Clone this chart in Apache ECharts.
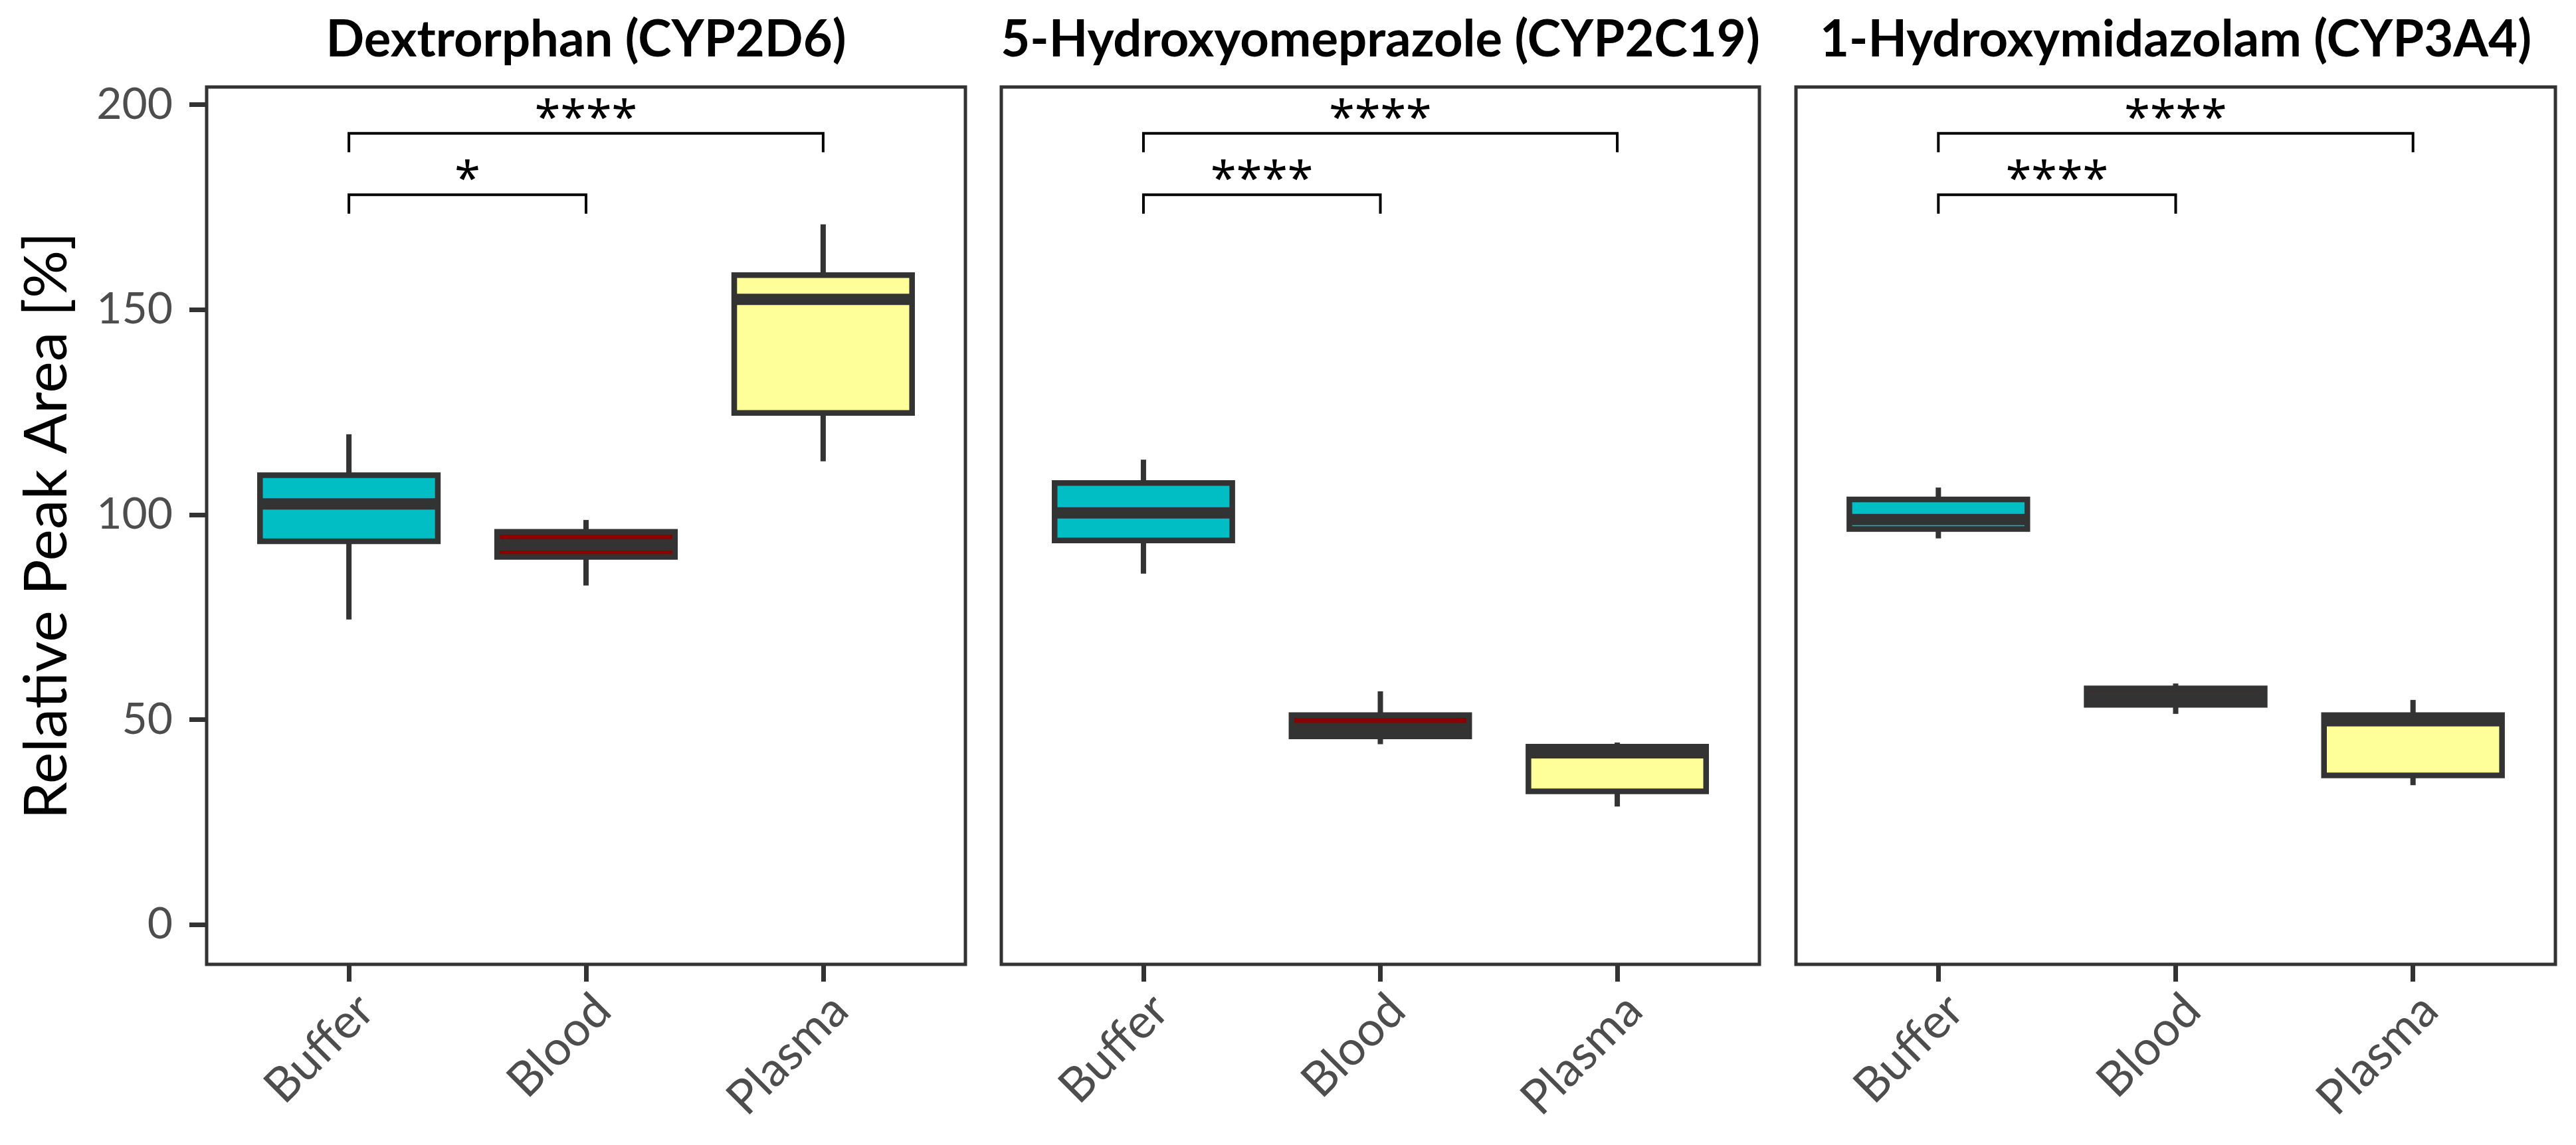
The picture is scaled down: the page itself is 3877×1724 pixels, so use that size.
<!DOCTYPE html>
<html>
<head>
<meta charset="utf-8">
<script src="https://cdn.jsdelivr.net/npm/echarts@6/dist/echarts.min.js"></script>
<style>
html,body{margin:0;padding:0;background:#fff;}
#chart{width:3877px;height:1724px;}
</style>
</head>
<body>
<div id="chart"></div>
<script>
// ---------- data ----------
const categories = ['Buffer', 'Blood', 'Plasma'];
const panelTitles = ['Dextrorphan (CYP2D6)', '5-Hydroxyomeprazole (CYP2C19)', '1-Hydroxymidazolam (CYP3A4)'];
const yTicks = [0, 50, 100, 150, 200];
const yAxisName = 'Relative Peak Area [%]';
// box statistics per category: [min, Q1, median, Q3, max]
const dextrorphanStats = [[74.4, 93.5, 102.6, 109.6, 119.6], [82.7, 89.7, 92.6, 95.8, 98.7], [113.0, 124.8, 152.5, 158.4, 170.8]];
const hydroxyomeprazoleStats = [[85.6, 93.7, 100.4, 107.7, 113.4], [44.0, 45.9, 47.8, 51.1, 56.9], [28.8, 32.5, 41.9, 43.4, 44.4]];
const hydroxymidazolamStats = [[94.2, 96.5, 98.8, 103.7, 106.6], [51.4, 53.6, 55.6, 57.6, 58.8], [34.0, 36.4, 49.7, 51.1, 54.8]];
// significance brackets: [fromCategoryIndex, toCategoryIndex, y, label]
const dextrorphanSig = [[0, 1, 178, '*'], [0, 2, 193, '****']];
const hydroxyomeprazoleSig = [[0, 1, 178, '****'], [0, 2, 193, '****']];
const hydroxymidazolamSig = [[0, 1, 178, '****'], [0, 2, 193, '****']];

// ---------- styling ----------
const fills = ['#00BEC4', '#8B0000', '#FFFF99'];
const panelStats = [dextrorphanStats, hydroxyomeprazoleStats, hydroxymidazolamStats];
const panelSig = [dextrorphanSig, hydroxyomeprazoleSig, hydroxymidazolamSig];
const FONT = 'Lato';
const grids = [
  {left: 311, top: 131, width: 1142, height: 1321},
  {left: 1507, top: 131, width: 1141, height: 1321},
  {left: 2703, top: 131, width: 1143, height: 1321}
];
const Y_MIN = -9.7, Y_MAX = 204.3, TIP = 4.6, HALF = 0.375;

function renderBox(params, api) {
  const x = api.value(0);
  const lo = api.value(1), q1 = api.value(2), med = api.value(3), q3 = api.value(4), hi = api.value(5);
  const tl = api.coord([x - HALF, q3]);
  const br = api.coord([x + HALF, q1]);
  const pHi = api.coord([x, hi]);
  const pLo = api.coord([x, lo]);
  const mL = api.coord([x - HALF, med]);
  const mR = api.coord([x + HALF, med]);
  const stroke = '#333333';
  return {
    type: 'group',
    children: [
      {type: 'line', shape: {x1: pHi[0], y1: pHi[1], x2: pHi[0], y2: tl[1]}, style: {stroke: stroke, lineWidth: 8}},
      {type: 'line', shape: {x1: pLo[0], y1: br[1], x2: pLo[0], y2: pLo[1]}, style: {stroke: stroke, lineWidth: 8}},
      {type: 'rect', shape: {x: tl[0], y: tl[1], width: br[0] - tl[0], height: br[1] - tl[1]},
        style: {fill: fills[params.dataIndex], stroke: stroke, lineWidth: 8.5, lineJoin: 'miter'}},
      {type: 'line', shape: {x1: mL[0], y1: mL[1], x2: mR[0], y2: mR[1]}, style: {stroke: stroke, lineWidth: 17}}
    ]
  };
}

function makeSigRenderer(sig) {
  return function (params, api) {
    const s = sig[params.dataIndex];
    const xa = api.value(0), xb = api.value(1), y = api.value(2);
    const a0 = api.coord([xa, y - TIP]), a1 = api.coord([xa, y]);
    const b1 = api.coord([xb, y]), b0 = api.coord([xb, y - TIP]);
    const mid = api.coord([(xa + xb) / 2, y]);
    return {
      type: 'group',
      children: [
        {type: 'polyline', shape: {points: [a0, a1, b1, b0]}, style: {stroke: '#000', lineWidth: 4, fill: null}},
        {type: 'text', x: mid[0], y: mid[1] - 20,
          style: {text: s[3], align: 'center', verticalAlign: 'middle', fontSize: 70, fontFamily: 'Noto Sans', fill: '#000'}}
      ]
    };
  };
}

const option = {
  backgroundColor: '#ffffff',
  animation: false,
  grid: grids.map(g => Object.assign({show: true, borderColor: '#333333', borderWidth: 5, backgroundColor: '#fff'}, g)),
  xAxis: grids.map((g, i) => ({
    type: 'value', gridIndex: i, min: 0.4, max: 3.6,
    splitLine: {show: false},
    axisLine: {show: false, onZero: false},
    axisTick: {show: true, customValues: [1, 2, 3], length: 26, lineStyle: {color: '#333333', width: 7}},
    axisLabel: {
      show: true, customValues: [1, 2, 3], rotate: 45, align: 'right', verticalAlign: 'top', margin: 32,
      formatter: v => categories[Math.round(v) - 1] || '',
      color: '#4D4D4D', fontSize: 72, fontFamily: FONT
    }
  })),
  yAxis: grids.map((g, i) => ({
    type: 'value', gridIndex: i, min: Y_MIN, max: Y_MAX,
    splitLine: {show: false},
    axisLine: {show: false, onZero: false},
    name: i === 0 ? yAxisName : '',
    nameLocation: 'middle', nameRotate: 90, nameGap: 195,
    nameTextStyle: {fontSize: 90, color: '#000', fontFamily: FONT},
    axisTick: {show: i === 0, customValues: yTicks, length: 26, lineStyle: {color: '#333333', width: 7}},
    axisLabel: {show: i === 0, customValues: yTicks, margin: 51, color: '#4D4D4D', fontSize: 66, fontFamily: FONT}
  })),
  graphic: grids.map((g, i) => ({
    type: 'text', x: g.left + g.width / 2, y: 60,
    style: {text: panelTitles[i], align: 'center', verticalAlign: 'middle', fontSize: 76, fontWeight: 'bold', fontFamily: FONT, fill: '#000'}
  })),
  series: []
};

panelStats.forEach((stats, i) => {
  option.series.push({
    type: 'custom', xAxisIndex: i, yAxisIndex: i, renderItem: renderBox, clip: false,
    data: stats.map((s, k) => [k + 1].concat(s))
  });
  option.series.push({
    type: 'custom', xAxisIndex: i, yAxisIndex: i, renderItem: makeSigRenderer(panelSig[i]), clip: false,
    data: panelSig[i].map(s => [s[0] + 1, s[1] + 1, s[2]])
  });
});

const chart = echarts.init(document.getElementById('chart'), null, {renderer: 'canvas'});
chart.setOption(option);
</script>
</body>
</html>
